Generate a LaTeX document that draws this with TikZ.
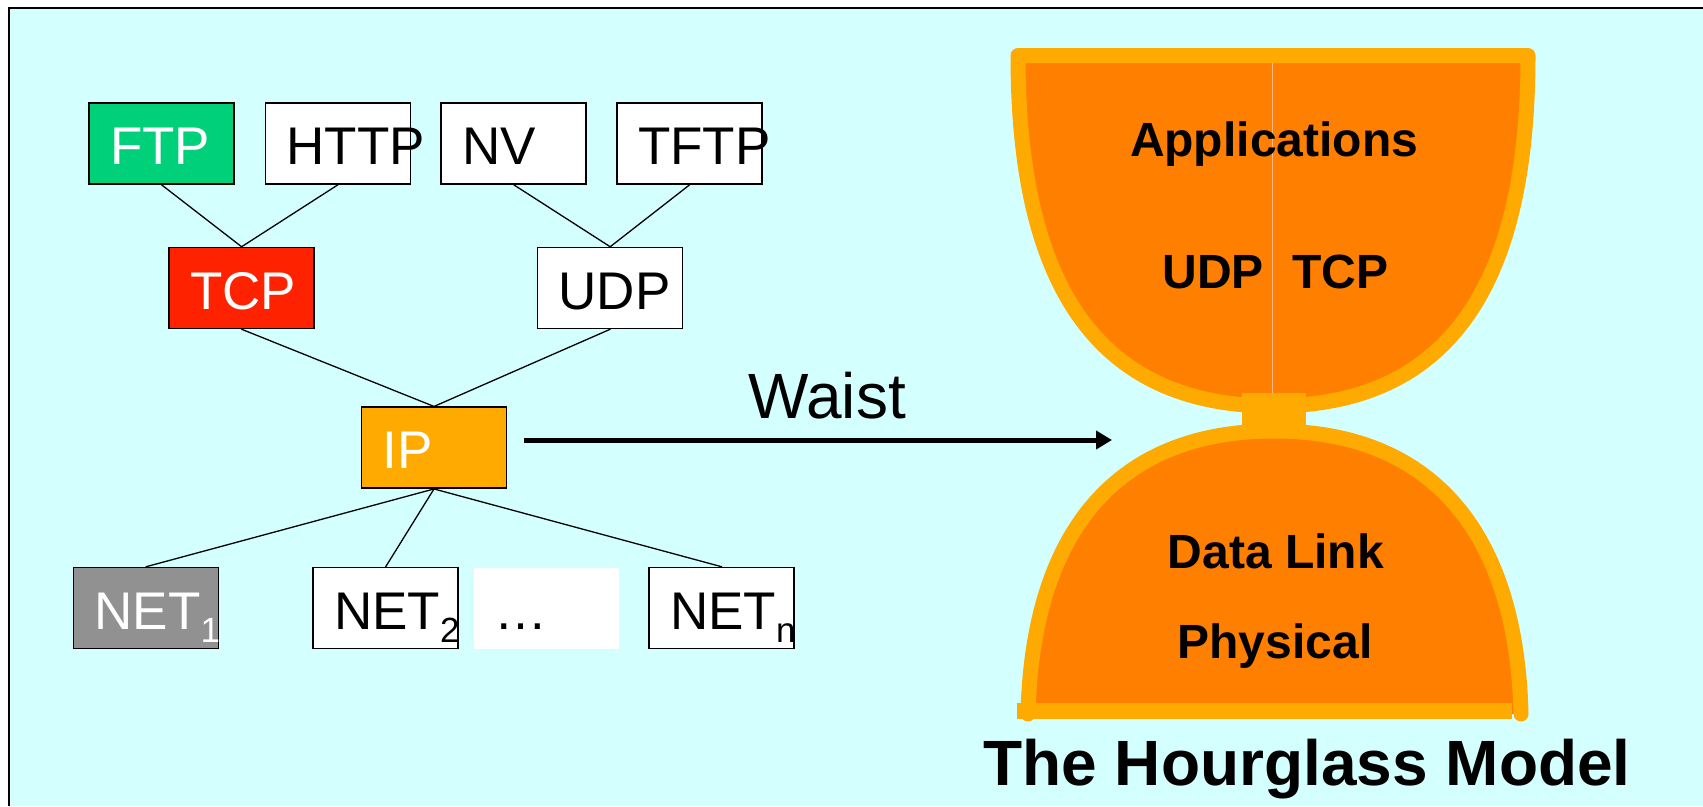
\documentclass[tikz,border=0pt]{standalone}
\usepackage{fontspec}
\setmainfont{Liberation Sans}
\usetikzlibrary{arrows.meta}

\definecolor{slidebg}{RGB}{212,255,255}
\definecolor{ftpgreen}{RGB}{0,208,122}
\definecolor{tcpred}{RGB}{255,34,0}
\definecolor{iporange}{RGB}{255,170,0}
\definecolor{netgray}{RGB}{145,145,145}
\definecolor{glassfill}{RGB}{255,127,0}
\definecolor{glassrim}{RGB}{255,170,0}
\definecolor{glassseam}{RGB}{255,185,135}

% Lowered index after NET.
\newcommand{\netidx}[1]{\raisebox{-13pt}{\fontsize{35}{35}\selectfont #1}}

\begin{document}
\begin{tikzpicture}[%
        x = 1pt,
        y = -1pt,
        line cap = round,
        proto/.style = {%
            draw = black,
            line width = 1.5pt,
            fill = white,
            minimum width = 145pt,
            minimum height = 81pt,
            inner xsep = 21pt,
            inner ysep = 0pt,
            text width = 103pt,
            align = left,
            text height = 42pt,
            text depth = 0pt,
            font = \fontsize{53}{53}\selectfont
        },
        link/.style = {draw = black, line width = 1.3pt},
        rim/.style = {draw = glassrim, line width = 15pt, line join = round},
        glasstext/.style = {%
            inner sep = 0pt,
            anchor = base,
            font = \fontsize{48}{48}\selectfont\bfseries
        }
    ]

        \useasboundingbox (0,0) rectangle (1703,806);

        % Slide background with its frame on the left and top.
        \fill[white] (0,0) rectangle (1703,806);
        \fill[slidebg] (9,8) rectangle (1703,806);
        \draw[line width = 2pt, line cap = butt] (9,806) -- (9,8) -- (1703,8);

        % Protocol boxes.
        \node[proto, fill = ftpgreen, text = white] (ftp) at (161.5,143.5) {FTP};
        \node[proto] (http) at (338,143.5) {HTTP};
        \node[proto] (nv) at (513.7,143.5) {NV};
        \node[proto] (tftp) at (689.7,143.5) {TFTP};

        \node[proto, fill = tcpred, text = white] (tcp) at (241.6,288) {TCP};
        \node[proto] (udp) at (610.2,288) {UDP};

        \node[proto, fill = iporange, text = white] (ip) at (434,447.7) {IP};

        \node[proto, fill = netgray, text = white] (net1) at (146,608) {NET\netidx{1}};
        \node[proto] (net2) at (385.7,608) {NET\netidx{2}};
        \node[proto, draw = none] (dots) at (546,608) {\ldots};
        \node[proto] (netn) at (721.7,608) {NET\netidx{n}};

        % Links between the layers.
        \draw[link] (ftp.south) -- (tcp.north);
        \draw[link] (http.south) -- (tcp.north);
        \draw[link] (nv.south) -- (udp.north);
        \draw[link] (tftp.south) -- (udp.north);
        \draw[link] (tcp.south) -- (ip.north);
        \draw[link] (udp.south) -- (ip.north);
        \draw[link] (ip.south) -- (net1.north);
        \draw[link] (ip.south) -- (net2.north);
        \draw[link] (ip.south) -- (netn.north);

        % Arrow from IP to the waist.
        \coordinate (waisttip) at (1112,440);
        \draw[%
            line width = 5pt,
            line cap = butt,
            -{Triangle[length = 16pt, width = 18pt]}
        ] ([xshift = 17pt, yshift = 7.7pt]ip.east) -- (waisttip);
        \node[anchor = base, font = \fontsize{64}{64}\selectfont] (waist) at (827,418) {Waist};

        % Upper bowl of the hourglass.
        \filldraw[rim, fill = glassfill] (1018,55.5) -- (1528,55.5)
            .. controls (1528,260) and (1466,406) .. (1273,406)
            .. controls (1080,406) and (1018,260) .. (1018,55.5) -- cycle;
        \draw[glassseam, line width = 1pt, line cap = butt] (1272,63) -- (1272,393);

        % Lower bowl of the hourglass.
        \fill[glassfill] (1028,714)
            .. controls (1032,540) and (1110,431) .. (1274,431)
            .. controls (1438,431) and (1517,540) .. (1521,714) -- cycle;
        \draw[rim] (1028,714)
            .. controls (1032,540) and (1110,431) .. (1274,431)
            .. controls (1438,431) and (1517,540) .. (1521,714);
        \draw[rim, line width = 16pt, line cap = butt] (1016.7,711) -- (1511.7,711);

        % Neck.
        \fill[glassrim] (1241.7,393.3) rectangle (1306,425);

        % Layer names inside the hourglass.
        \node[glasstext] (apps) at (1274,156) {Applications};
        \node[glasstext, anchor = base east] (udpname) at (1264,288) {UDP};
        \node[glasstext, anchor = base west] (tcpname) at (1292,288) {TCP};
        \node[glasstext] (datalink) at (1276,568) {Data Link};
        \node[glasstext] (physical) at (1275,658) {Physical};

        \node[glasstext, font = \fontsize{64}{64}\selectfont\bfseries] (title) at (1307,785) {The Hourglass Model};
    \end{tikzpicture}
\end{document}
